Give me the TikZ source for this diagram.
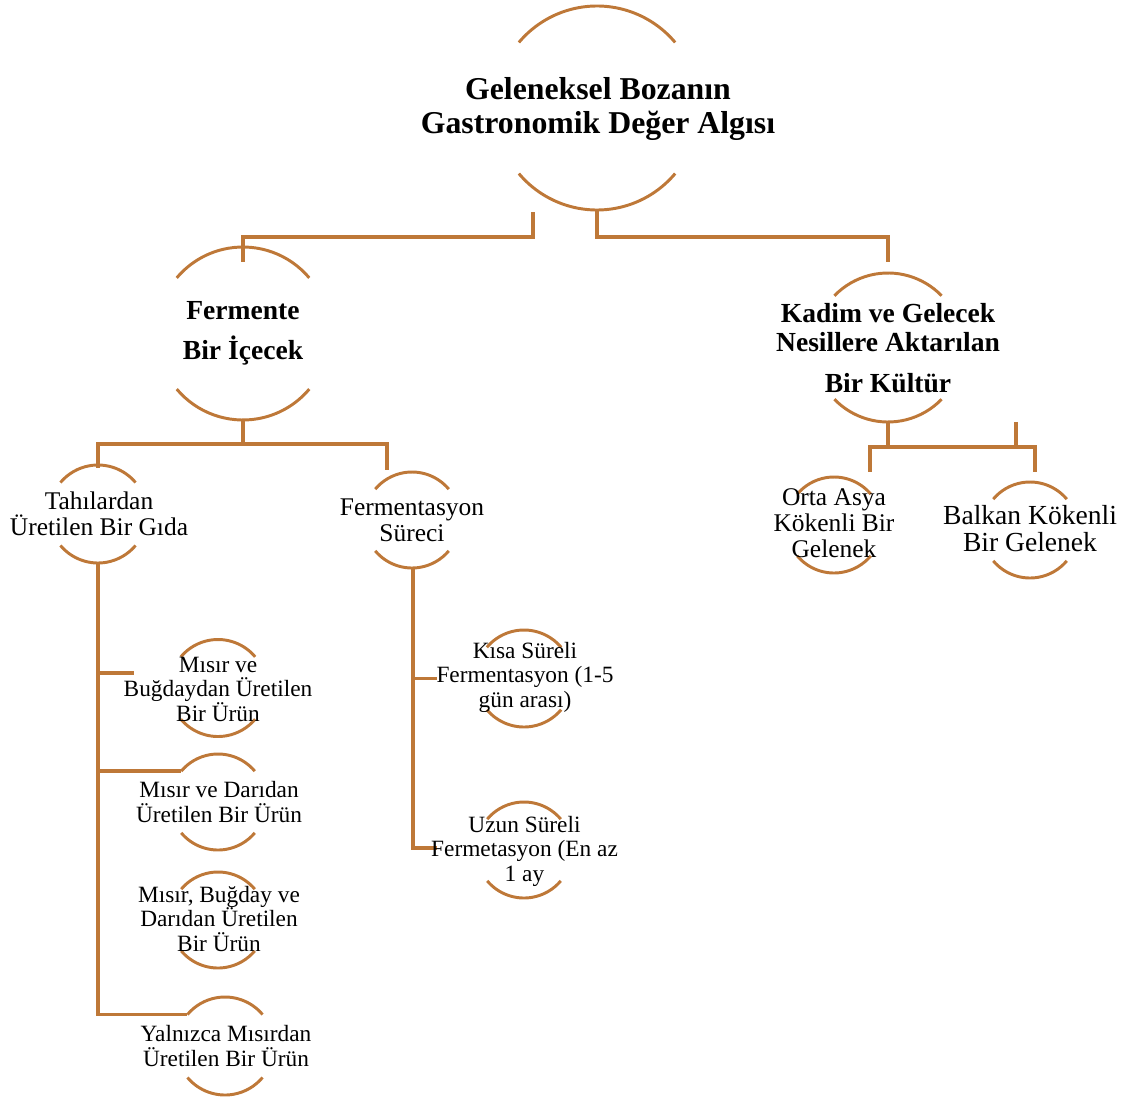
\documentclass[tikz,border=0pt]{standalone}
\usepackage{fontspec}
\setmainfont{Liberation Serif}
\usetikzlibrary{calc}
\definecolor{brn}{RGB}{190,120,56}
\tikzset{
  conn/.style={draw=brn, line width=2.5pt},
  arcl/.style={draw=brn, line width=2.1pt},
  hub/.style={circle, inner sep=0pt, outer sep=0pt, minimum size=#1},
  txt/.style={align=center, inner sep=0pt, text=black},
  tA/.style={txt, font=\fontsize{22.6}{23.5}\selectfont\bfseries},
  tB/.style={txt, font=\fontsize{19.6}{28.5}\selectfont\bfseries},
  tK/.style={txt, font=\fontsize{19.6}{20.6}\selectfont\bfseries},
  tC/.style={txt, font=\fontsize{18.1}{18.5}\selectfont},
  tBal/.style={txt, font=\fontsize{19.6}{19.2}\selectfont},
  tD/.style={txt, font=\fontsize{16.6}{17.4}\selectfont},
}
\newcommand\arcpair[3]{%
  \pgfmathsetmacro\myArcR{#2*0.025}%
  \pgfmathsetmacro\myArcA{#3}%
  \pgfmathsetmacro\myArcB{180-#3}%
  \pgfmathsetmacro\myArcC{180+#3}%
  \pgfmathsetmacro\myArcD{360-#3}%
  \draw[arcl] (#1.center) ++(\myArcA:\myArcR cm) arc[start angle=\myArcA, end angle=\myArcB, radius=\myArcR cm];
  \draw[arcl] (#1.center) ++(\myArcC:\myArcR cm) arc[start angle=\myArcC, end angle=\myArcD, radius=\myArcR cm];}
\begin{document}
\begin{tikzpicture}[x=0.025cm, y=-0.025cm]
\useasboundingbox (0,0) rectangle (1128,1097);
% hub circles (invisible) carrying the arcs
\node[hub=5.1cm]   (root)  at (597,108)   {};
\node[hub=4.325cm] (ferm)  at (243,333.5) {};
\node[hub=3.725cm] (kadim) at (888,347.5) {};
\node[hub=2.45cm]  (tah)   at (98,514)    {};
\node[hub=2.4cm]   (fsur)  at (412,520)   {};
\node[hub=2.4cm]   (orta)  at (834,525)   {};
\node[hub=2.4cm]   (balk)  at (1030,530)  {};
\node[hub=2.425cm] (mA)    at (218,688)   {};
\node[hub=2.4cm]   (mB)    at (218,802)   {};
\node[hub=2.4cm]   (mC)    at (218,920)   {};
\node[hub=2.45cm]  (mD)    at (225,1046)  {};
\node[hub=2.425cm] (kisa)  at (524,678.5) {};
\node[hub=2.4cm]   (uzun)  at (524,850)   {};
% arcs
\arcpair{root}{102}{40}
\arcpair{ferm}{86.5}{40}
\arcpair{kadim}{74.5}{44}
\arcpair{tah}{49}{40}
\arcpair{fsur}{48}{40}
\arcpair{orta}{48}{40}
\arcpair{balk}{48}{40}
\arcpair{mA}{48.5}{40}
\arcpair{mB}{48}{40}
\arcpair{mC}{48}{40}
\arcpair{mD}{49}{40}
\arcpair{kisa}{48.5}{40}
\arcpair{uzun}{48}{40}
% connectors
\draw[conn] ($(root.south)+(-64,2)$) -- ++(0,25) -| ($(ferm.north)+(0,15)$);
\draw[conn] (root.south) -- ++(0,27) -| ($(kadim.north)+(0,-11)$);
\draw[conn] (ferm.south) -- ++(0,24) -| ($(tah.north)+(0,3)$);
\draw[conn] ($(ferm.south)+(0,24)$) -| ($(fsur.north)+(-25,-2)$);
\draw[conn] (kadim.south) -- ++(0,25) -| ($(orta.north)+(36,-5)$);
\draw[conn] ($(kadim.south)+(0,25)$) -| ($(balk.north)+(5,-10)$);
\draw[conn] ($(balk.north)+(-14,-60)$) -- ++(0,25);
\draw[conn] (tah.south) |- (mD.140);
\draw[conn] (tah.south) |- (mB.140);
\draw[conn] (tah.south) |- ($(mA.west)+(-35,-15)$);
\draw[conn] ($(fsur.south)+(1,0)$) |- ($(uzun.west)+(-39,-2)$);
\draw[conn] ($(fsur.south)+(1,0)$) |- ($(kisa.west)+(-38,0)$);
% texts
\node[tA] (rootT) at (598,109) {Geleneksel Bozanın\\Gastronomik Değer Algısı};
\node[tB] (fermT) at (243,333) {Fermente\\Bir İçecek};
\node[tK] (kadimT) at (888,348) {Kadim ve Gelecek\\Nesillere Aktarılan\\[8.5pt]Bir Kültür};
\node[tC] (tahT) at (99,514) {Tahılardan\\Üretilen Bir Gıda};
\node[tC] (fsurT) at (412,520) {Fermentasyon\\Süreci};
\node[tC] (ortaT) at (834,523) {Orta Asya\\Kökenli Bir\\Gelenek};
\node[tBal] (balkT) at (1030,528.5) {Balkan Kökenli\\Bir Gelenek};
\node[tD] (mAT) at (218,689) {Mısır ve\\Buğdaydan Üretilen\\Bir Ürün};
\node[tD] (mBT) at (219,802) {Mısır ve Darıdan\\Üretilen Bir Ürün};
\node[tD] (mCT) at (219,919) {Mısır, Buğday ve\\Darıdan Üretilen\\Bir Ürün};
\node[tD] (mDT) at (226,1046) {Yalnızca Mısırdan\\Üretilen Bir Ürün};
\node[tD] (kisaT) at (525,677) {Kısa Süreli\\Fermentasyon (1-5\\gün arası)};
\node[tD] (uzunT) at (524.5,851) {Uzun Süreli\\Fermetasyon (En az\\1 ay};
\end{tikzpicture}
\end{document}
